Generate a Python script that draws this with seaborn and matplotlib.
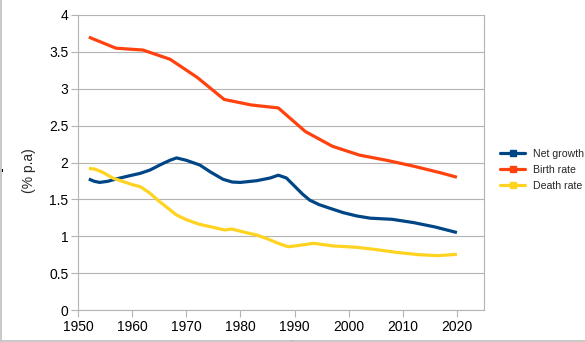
import matplotlib
matplotlib.use("Agg")
import matplotlib.pyplot as plt
from matplotlib.lines import Line2D
from matplotlib.patches import Rectangle
from matplotlib.ticker import FuncFormatter
import seaborn as sns
import pandas as pd

# ---- data ----
birth_years = [1952, 1957, 1962, 1967, 1972, 1977, 1982, 1987, 1992, 1997, 2002, 2007, 2012, 2017, 2020]
birth_rate = [3.70, 3.55, 3.525, 3.40, 3.155, 2.855, 2.78, 2.74, 2.42, 2.22, 2.10, 2.03, 1.95, 1.86, 1.80]

net_years = [1952, 1953, 1954, 1955.5, 1957, 1959.5, 1961.5, 1963.3, 1965.5, 1967, 1968.2, 1970,
             1972.5, 1974.5, 1976.8, 1978.5, 1980, 1983, 1985.5, 1987, 1988.5, 1990, 1991.5,
             1992.8, 1994.5, 1996.5, 1999, 2001.5, 2004, 2008, 2012, 2016, 2020]
net_growth = [1.776, 1.745, 1.73, 1.745, 1.776, 1.82, 1.853, 1.898, 1.98, 2.03, 2.062, 2.03,
              1.966, 1.87, 1.772, 1.735, 1.73, 1.753, 1.79, 1.828, 1.79, 1.68, 1.57,
              1.49, 1.43, 1.38, 1.32, 1.275, 1.245, 1.23, 1.185, 1.125, 1.05]

death_years = [1952, 1953.1, 1954.5, 1956.5, 1958.4, 1960, 1961.5, 1963, 1965.1, 1968.2, 1970,
               1972.3, 1975, 1977.1, 1978.4, 1981, 1983, 1985, 1987, 1988.8, 1991, 1993.5,
               1995.5, 1997.2, 2001.5, 2005, 2009, 2013, 2016.5, 2020]
death_rate = [1.92, 1.91, 1.87, 1.786, 1.74, 1.70, 1.672, 1.60, 1.468, 1.288, 1.225,
              1.165, 1.12, 1.085, 1.098, 1.05, 1.017, 0.965, 0.904, 0.858, 0.877, 0.904,
              0.885, 0.868, 0.85, 0.82, 0.78, 0.75, 0.737, 0.755]

series_names = ["Net growth", "Birth rate", "Death rate"]
colors = ["#004586", "#ff420e", "#ffd320"]
x_ticks = [1950, 1960, 1970, 1980, 1990, 2000, 2010, 2020]
y_ticks = [0, 0.5, 1, 1.5, 2, 2.5, 3, 3.5, 4]
y_label = "(% p.a)"

df = pd.concat([
    pd.DataFrame({"year": net_years, "value": net_growth, "series": series_names[0]}),
    pd.DataFrame({"year": birth_years, "value": birth_rate, "series": series_names[1]}),
    pd.DataFrame({"year": death_years, "value": death_rate, "series": series_names[2]}),
], ignore_index=True)

sns.set_style("white")
plt.rcParams["font.family"] = ["Liberation Sans", "DejaVu Sans"]

fig = plt.figure(figsize=(5.85, 3.42), dpi=100)
ax = fig.add_axes([78 / 585, 1 - 310 / 342, (484 - 78) / 585, (310 - 15) / 342])

sns.lineplot(data=df, x="year", y="value", hue="series", hue_order=series_names,
             palette=colors, linewidth=2.3, legend=False, ax=ax, estimator=None,
             sort=True)
for ln in ax.lines:
    ln.set_solid_joinstyle("round")
    ln.set_solid_capstyle("butt")

ax.set_xlim(1950, 2025)
ax.set_ylim(0, 4)
ax.set_xticks(x_ticks)
ax.set_yticks(y_ticks)
ax.yaxis.set_major_formatter(FuncFormatter(lambda v, p: f"{v:g}"))
ax.grid(True, axis="y", color="#b3b3b3", linewidth=0.8)
ax.set_axisbelow(True)
ax.tick_params(axis="both", which="major", direction="out", length=5, width=0.8,
               color="#b3b3b3", labelsize=10, labelcolor="#000000", pad=2)
ax.tick_params(axis="x", bottom=True)
ax.tick_params(axis="y", left=True)
for s in ["left", "bottom", "right"]:
    ax.spines[s].set_visible(True)
    ax.spines[s].set_color("#b3b3b3")
    ax.spines[s].set_linewidth(0.8)
ax.spines["top"].set_visible(False)
ax.set_xlabel("")
ax.set_ylabel(y_label, fontsize=10)
ax.yaxis.set_label_coords((36 - 78) / 406, (310 - 171) / 295)

handles = [Line2D([], [], color=c, linewidth=2.3, marker="s", markersize=4,
                  markerfacecolor=c, markeredgecolor=c) for c in colors]
fig.legend(handles, series_names, loc="center left",
           bbox_to_anchor=(500 / 585, 1 - 170 / 342), frameon=False,
           prop={"family": "Liberation Sans", "size": 7.6},
           handlelength=2.4, handletextpad=0.7, labelspacing=0.55,
           numpoints=1, borderaxespad=0, borderpad=0)

# figure frame (left and bottom gray edges) and small handles
fig.add_artist(Line2D([0.9 / 585, 0.9 / 585], [0, 1], transform=fig.transFigure,
                      color="#c8c8c8", linewidth=1.4))
fig.add_artist(Line2D([0, 1], [1.2 / 342, 1.2 / 342], transform=fig.transFigure,
                      color="#c8c8c8", linewidth=1.4))
fig.add_artist(Rectangle((0, 1 - 172 / 342), 3 / 585, 3 / 342, transform=fig.transFigure,
                         color="black", linewidth=0))
fig.add_artist(Rectangle((291 / 585, 0), 3 / 585, 2 / 342, transform=fig.transFigure,
                         color="black", linewidth=0))

fig.savefig("out.png", dpi=100)
